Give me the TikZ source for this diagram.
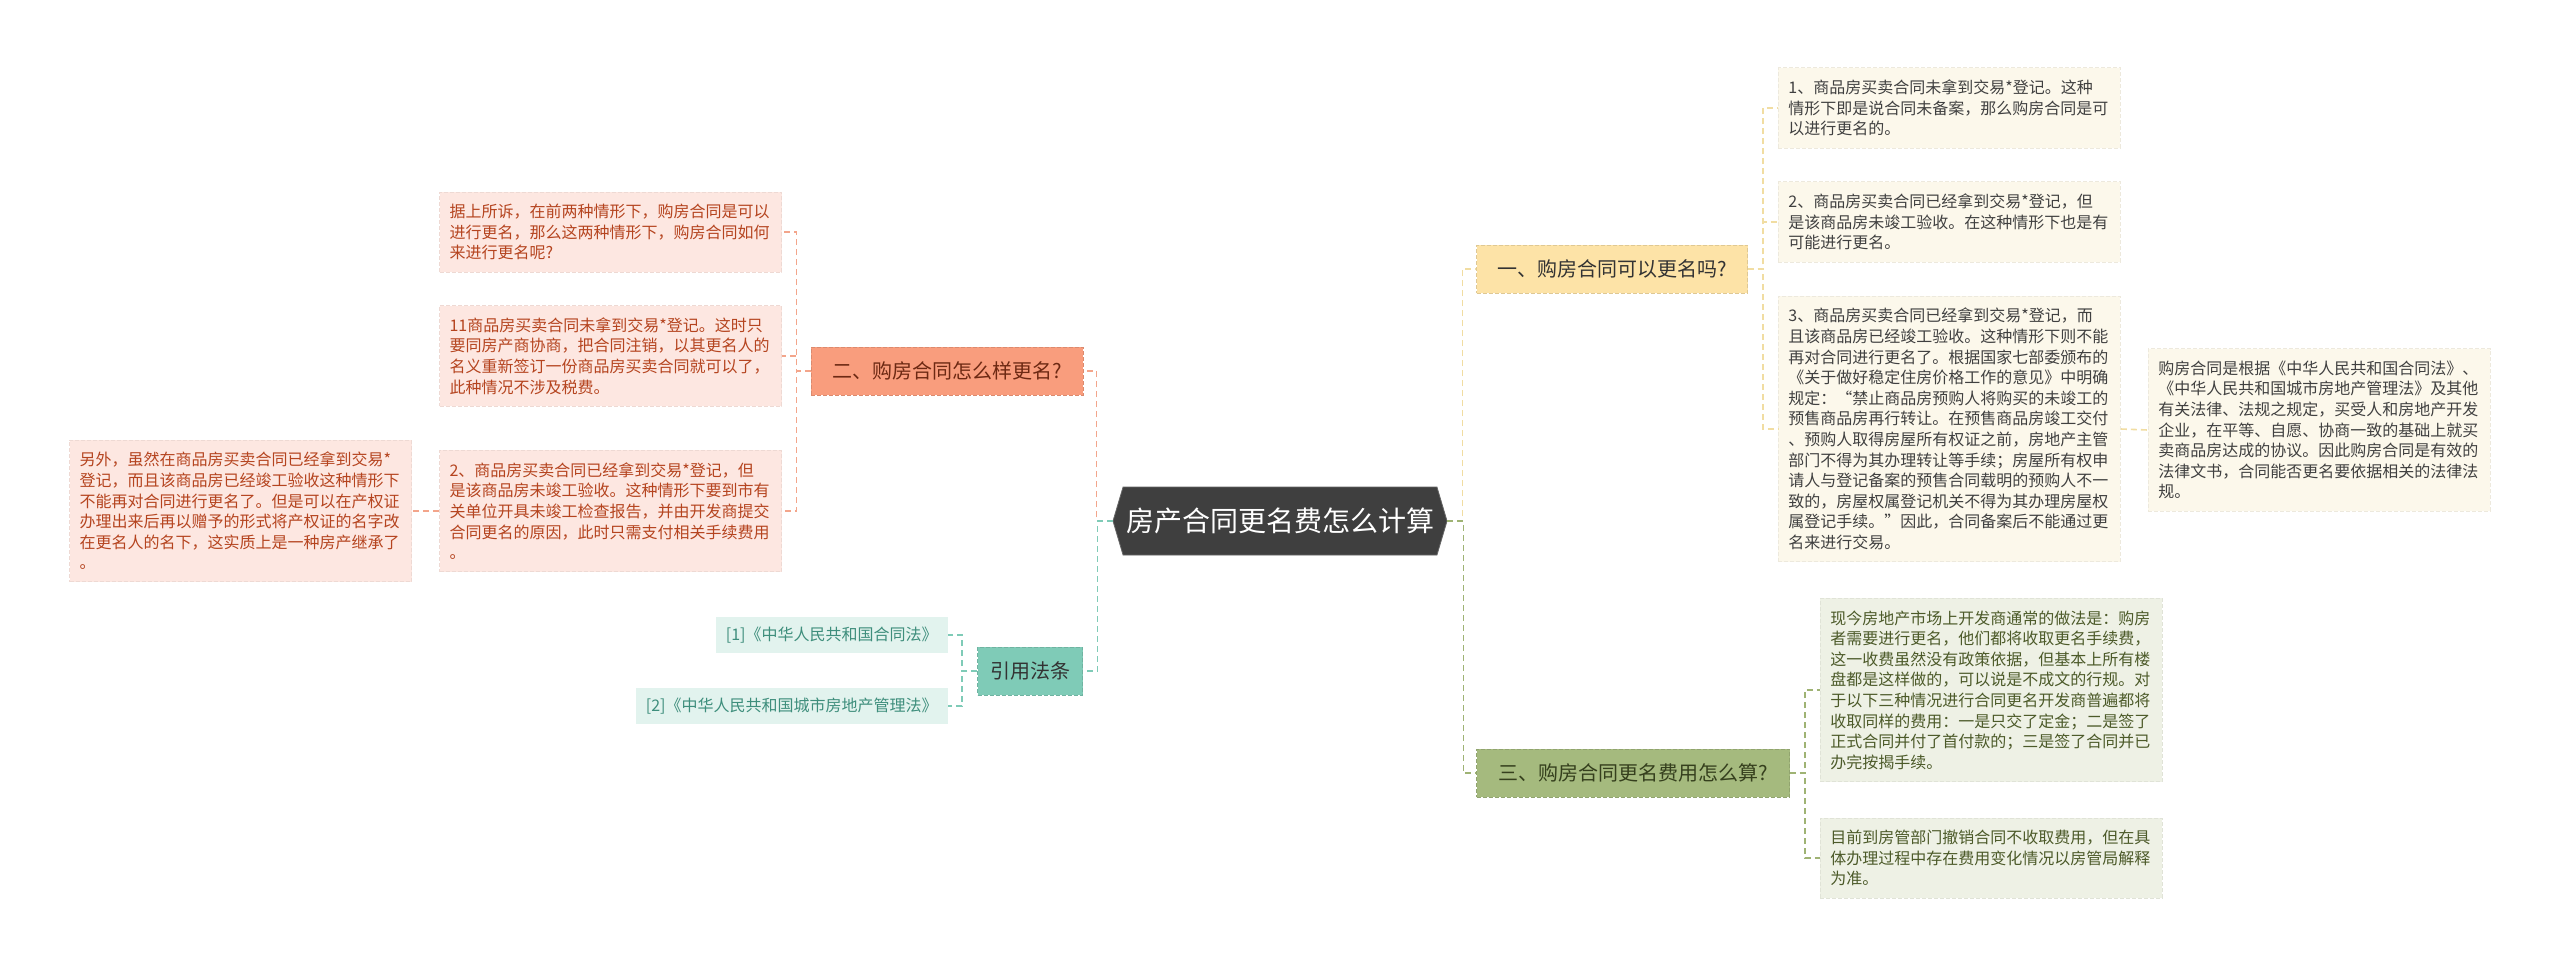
\documentclass[tikz,border=0pt]{standalone}
\usepackage{fontspec}
\setmainfont{Noto Sans CJK SC}
\usetikzlibrary{calc}
\usetikzlibrary{shapes.symbols}
\usepackage{xcolor}

\definecolor{rootbg}{HTML}{3F3F3F}
\definecolor{ylwbr}{HTML}{FDE3A7}
\definecolor{ylwlf}{HTML}{FCF8EB}
\definecolor{ylwln}{HTML}{F1DDA2}
\definecolor{orgbr}{HTML}{F99D7D}
\definecolor{orglf}{HTML}{FDE7E1}
\definecolor{orgln}{HTML}{F3A58B}
\definecolor{orgtx}{HTML}{B5441F}
\definecolor{grnbr}{HTML}{A5BA7E}
\definecolor{grnlf}{HTML}{EEF1E5}
\definecolor{grnln}{HTML}{9FB374}
\definecolor{grntx}{HTML}{4C5A29}
\definecolor{teabr}{HTML}{7FCBB7}
\definecolor{tealf}{HTML}{E2F3EE}
\definecolor{teatx}{HTML}{3E8E7C}

\tikzset{
  link/.style={line width=0.8pt, dash pattern=on 3pt off 2pt},
  branch/.style={rectangle, draw=#1!88!black, dash pattern=on 2pt off 1pt,
    fill=#1, inner xsep=5pt, inner ysep=0pt, minimum height=24pt,
    font=\fontsize{10}{12}\selectfont},
  leaf/.style={rectangle, draw=#1!94!black, dash pattern=on 2pt off 1pt,
    fill=#1, inner xsep=5pt, inner ysep=6pt, text width=161pt, align=left,
    font=\fontsize{8}{10.3}\selectfont},
  cite/.style={rectangle, fill=tealf, inner xsep=5pt, inner ysep=5pt,
    text=teatx, font=\fontsize{8}{10.3}\selectfont},
}

\begin{document}
\begin{tikzpicture}[x=0.5pt,y=-0.5pt]

        % Canvas
        \fill[white] (0,0) rectangle (2560,965);
        \useasboundingbox (0,0) rectangle (2560,965);

        % Root
        \node[signal, signal to=west and east, signal pointer angle=147,
          fill=rootbg, draw=rootbg!80!white, minimum width=167pt, minimum height=34pt,
          inner sep=0pt, text=white, font=\fontsize{14}{16}\selectfont]
          (root) at (1280,521) {房产合同更名费怎么计算};

        % Branches
        \node[branch=ylwbr, minimum width=135.5pt, text=black!80] (b1) at (1612,269) {一、购房合同可以更名吗?};
        \node[branch=orgbr, minimum width=136pt, text=orgtx!60!black] (b2) at (947,371) {二、购房合同怎么样更名?};
        \node[branch=grnbr, minimum width=156.5pt, text=grntx!70!black] (b3) at (1633,773) {三、购房合同更名费用怎么算?};
        \node[branch=teabr, minimum width=52.5pt, text=black!80] (b4) at (1030,671) {引用法条};

        % Branch one
        \node[leaf=ylwlf, anchor=west, text=black!75] (l11) at (1778,108)
          {1、商品房买卖合同未拿到交易*登记。这种\\情形下即是说合同未备案，那么购房合同是可\\以进行更名的。};
        \node[leaf=ylwlf, anchor=west, text=black!75] (l12) at (1778,222)
          {2、商品房买卖合同已经拿到交易*登记，但\\是该商品房未竣工验收。在这种情形下也是有\\可能进行更名。};
        \node[leaf=ylwlf, anchor=west, text=black!75] (l13) at (1778,429)
          {3、商品房买卖合同已经拿到交易*登记，而\\且该商品房已经竣工验收。这种情形下则不能\\再对合同进行更名了。根据国家七部委颁布的\\《关于做好稳定住房价格工作的意见》中明确\\规定：“禁止商品房预购人将购买的未竣工的\\预售商品房再行转让。在预售商品房竣工交付\\、预购人取得房屋所有权证之前，房地产主管\\部门不得为其办理转让等手续；房屋所有权申\\请人与登记备案的预售合同载明的预购人不一\\致的，房屋权属登记机关不得为其办理房屋权\\属登记手续。”因此，合同备案后不能通过更\\名来进行交易。};
        \node[leaf=ylwlf, anchor=west, text=black!75] (l131) at (2148,430)
          {购房合同是根据《中华人民共和国合同法》、\\《中华人民共和国城市房地产管理法》及其他\\有关法律、法规之规定，买受人和房地产开发\\企业，在平等、自愿、协商一致的基础上就买\\卖商品房达成的协议。因此购房合同是有效的\\法律文书，合同能否更名要依据相关的法律法\\规。};

        % Branch two
        \node[leaf=orglf, anchor=east, text=orgtx] (l21) at (782,232)
          {据上所诉，在前两种情形下，购房合同是可以\\进行更名，那么这两种情形下，购房合同如何\\来进行更名呢?};
        \node[leaf=orglf, anchor=east, text=orgtx] (l22) at (782,356)
          {11商品房买卖合同未拿到交易*登记。这时只\\要同房产商协商，把合同注销，以其更名人的\\名义重新签订一份商品房买卖合同就可以了，\\此种情况不涉及税费。};
        \node[leaf=orglf, anchor=east, text=orgtx] (l23) at (782,511)
          {2、商品房买卖合同已经拿到交易*登记，但\\是该商品房未竣工验收。这种情形下要到市有\\关单位开具未竣工检查报告，并由开发商提交\\合同更名的原因，此时只需支付相关手续费用\\。};
        \node[leaf=orglf, anchor=east, text=orgtx] (l231) at (412,511)
          {另外，虽然在商品房买卖合同已经拿到交易*\\登记，而且该商品房已经竣工验收这种情形下\\不能再对合同进行更名了。但是可以在产权证\\办理出来后再以赠予的形式将产权证的名字改\\在更名人的名下，这实质上是一种房产继承了\\。};

        % Branch three
        \node[leaf=grnlf, anchor=west, text=grntx] (l31) at (1820,690)
          {现今房地产市场上开发商通常的做法是：购房\\者需要进行更名，他们都将收取更名手续费，\\这一收费虽然没有政策依据，但基本上所有楼\\盘都是这样做的，可以说是不成文的行规。对\\于以下三种情况进行合同更名开发商普遍都将\\收取同样的费用：一是只交了定金；二是签了\\正式合同并付了首付款的；三是签了合同并已\\办完按揭手续。};
        \node[leaf=grnlf, anchor=west, text=grntx] (l32) at (1820,858)
          {目前到房管部门撤销合同不收取费用，但在具\\体办理过程中存在费用变化情况以房管局解释\\为准。};

        % Branch four
        \node[cite, anchor=east] (l41) at (948,635) {[1]《中华人民共和国合同法》};
        \node[cite, anchor=east] (l42) at (948,706) {[2]《中华人民共和国城市房地产管理法》};

        % Links from root
        \draw[link, ylwln] (root.east) -- ++(15,0) |- (b1.west);
        \draw[link, grnln] (root.east) -- ++(16,0) |- (b3.west);
        \draw[link, orgln] (root.west) -- ++(-16,0) |- (b2.east);
        \draw[link, teabr] (root.west) -- ++(-15,0) |- (b4.east);

        % Links to leaves
        \foreach \n in {l11,l12,l13}
          \draw[link, ylwln] (b1.east) -- ++(15,0) |- (\n.west);
        \foreach \n in {l31,l32}
          \draw[link, grnln] (b3.east) -- ++(15,0) |- (\n.west);
        \foreach \n in {l21,l22,l23}
          \draw[link, orgln] (b2.west) -- ++(-14,0) |- (\n.east);
        \foreach \n in {l41,l42}
          \draw[link, teabr] (b4.west) -- ++(-15,0) |- (\n.east);
        \draw[link, ylwln] (l13.east) -- (l131.west);
        \draw[link, orgln] (l23.west) -- (l231.east);

    \end{tikzpicture}
\end{document}
